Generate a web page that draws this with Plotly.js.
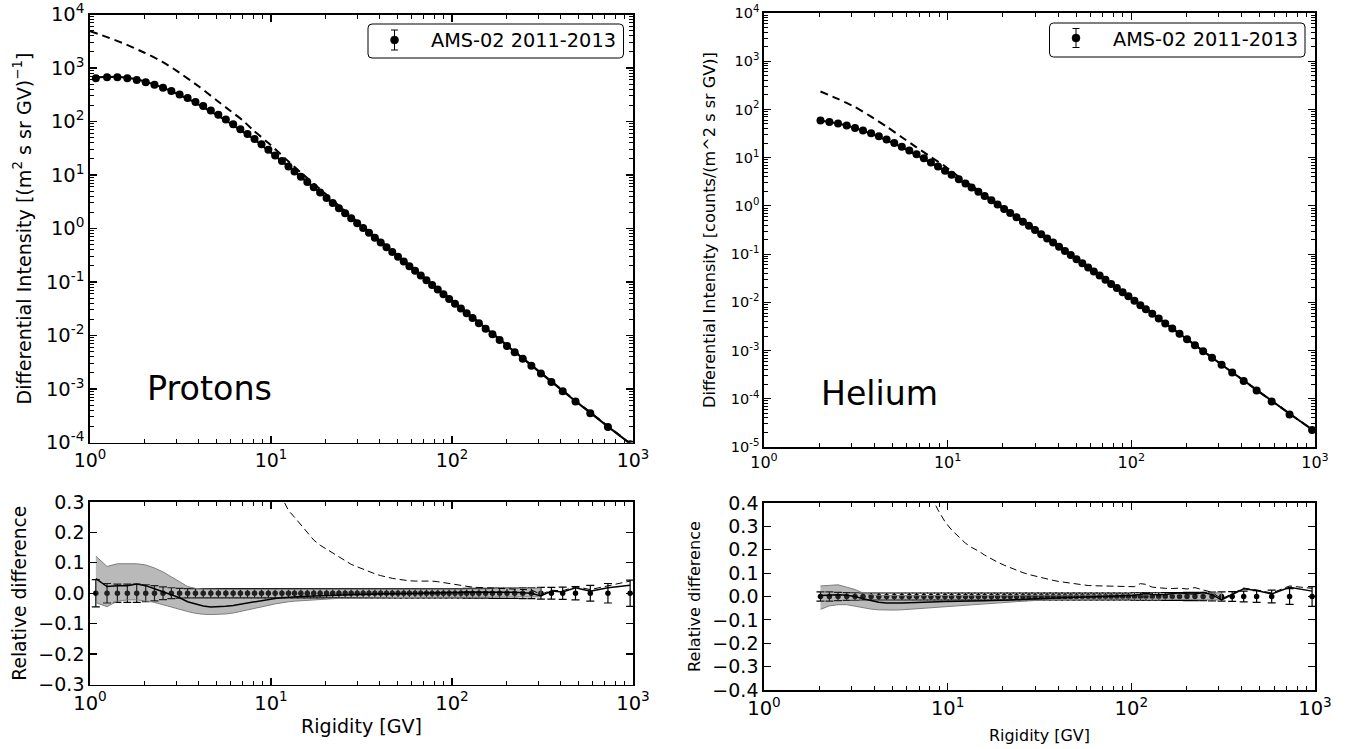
<!DOCTYPE html>
<html><head><meta charset="utf-8">
<script src="https://cdn.plot.ly/plotly-3.0.1.min.js"></script>
<style>html,body{margin:0;padding:0;background:#fff;} #chart{width:1348px;height:749px;}</style>
</head><body><div id="chart"></div>
<script>
// ---------------- Protons ----------------
const protonRigidity = [1.077, 1.242, 1.417, 1.608, 1.812, 2.032, 2.271, 2.532, 2.816, 3.126,
 3.461, 3.826, 4.221, 4.650, 5.119, 5.629, 6.180, 6.773, 7.418, 8.112,
 8.862, 9.671, 10.54, 11.49, 12.49, 13.49, 14.62, 15.87, 17.22, 18.68,
 20.28, 21.93, 23.73, 25.68, 27.73, 29.93, 32.29, 34.78, 37.47, 40.37,
 43.47, 46.77, 50.31, 54.12, 58.16, 62.51, 67.20, 72.25, 77.65, 83.45,
 89.69, 96.44, 103.9, 112.0, 120.5, 129.9, 140.8, 153.4, 167.3, 183.3,
 201.3, 222.0, 246.0, 274.5, 309.9, 354.0, 408.8, 481.2, 580.9, 727.0,
 964.0];
const protonFlux = [640, 672, 668, 640, 596, 542, 486, 428, 372, 320,
 274, 231, 194, 161, 133, 109, 88.9, 72.0, 58.3, 47.0,
 37.5, 29.5, 23.2, 18.24, 14.45, 11.65, 9.30, 7.395, 5.888, 4.688,
 3.726, 2.994, 2.403, 1.929, 1.557, 1.259, 1.019, 0.8286, 0.6730, 0.5468,
 0.4446, 0.3624, 0.2955, 0.2412, 0.1973, 0.1615, 0.1320, 0.1079, 0.08829, 0.07229,
 0.05915, 0.04837, 0.03935, 0.03196, 0.02611, 0.02122, 0.01699, 0.01342, 0.01056, 0.008217,
 0.006352, 0.004852, 0.003662, 0.002710, 0.001943, 0.001351, 9.111e-4, 5.839e-4, 3.511e-4, 1.945e-4,
 9.294e-5];
const protonRelErr = [0.045, 0.032, 0.030, 0.030, 0.030, 0.028, 0.025, 0.021, 0.018, 0.016,
 0.015, 0.015, 0.015, 0.015, 0.015, 0.015, 0.015, 0.015, 0.015, 0.015,
 0.015, 0.015, 0.015, 0.015, 0.015, 0.015, 0.015, 0.015, 0.015, 0.015,
 0.015, 0.015, 0.015, 0.015, 0.015, 0.015, 0.015, 0.015, 0.015, 0.015,
 0.015, 0.015, 0.015, 0.015, 0.015, 0.015, 0.015, 0.015, 0.015, 0.015,
 0.015, 0.015, 0.015, 0.015, 0.016, 0.016, 0.016, 0.016, 0.017, 0.017,
 0.017, 0.017, 0.018, 0.018, 0.019, 0.019, 0.020, 0.022, 0.026, 0.032,
 0.043];
const protonModelDiff = [0.048, 0.022, 0.025, 0.025, 0.030, 0.025, 0.015, 0.005, -0.005, -0.015,
 -0.028, -0.036, -0.042, -0.045, -0.045, -0.043, -0.040, -0.036, -0.032, -0.028,
 -0.024, -0.020, -0.017, -0.015, -0.013, -0.012, -0.011, -0.010, -0.009, -0.008,
 -0.007, -0.006, -0.006, -0.005, -0.005, -0.004, -0.004, -0.003, -0.003, -0.003,
 -0.002, -0.002, -0.002, -0.001, -0.001, 0.000, 0.000, 0.001, 0.001, 0.001,
 0.002, 0.002, 0.003, 0.003, 0.004, 0.004, 0.005, 0.004, 0.004, 0.005,
 0.004, 0.003, 0.002, 0.000, -0.009, 0.007, 0.004, 0.018, 0.007, 0.018,
 0.026];
const protonLisDiff = [null, null, null, null, null, null, null, null, null, null,
 null, null, null, null, null, null, null, null, null, null,
 0.50, 0.43, 0.37, 0.315, 0.272, 0.250, 0.225, 0.198, 0.175, 0.158,
 0.145, 0.132, 0.118, 0.106, 0.095, 0.087, 0.079, 0.071, 0.064, 0.058,
 0.053, 0.049, 0.046, 0.043, 0.041, 0.040, 0.040, 0.041, 0.040, 0.038,
 0.035, 0.032, 0.029, 0.025, 0.022, 0.020, 0.019, 0.018, 0.018, 0.017,
 0.016, 0.015, 0.013, 0.011, -0.004, 0.010, 0.008, 0.022, 0.012, 0.024,
 0.040];
const protonBandUpper = [0.122, 0.088, 0.097, 0.098, 0.097, 0.093, 0.083, 0.070, 0.055, 0.038,
 0.022, 0.016, 0.014, 0.013, 0.013, 0.013, 0.013, 0.013, 0.013, 0.013,
 0.013, 0.013, 0.013, 0.013, 0.013, 0.012, 0.012, 0.012, 0.012, 0.012,
 0.012, 0.012, 0.012, 0.012, 0.012, 0.012, 0.012, 0.012, 0.012, 0.012,
 0.012, 0.012, 0.012, 0.012, 0.012, 0.012, 0.012, 0.012, 0.012, 0.012,
 0.012, 0.012, 0.013, 0.013, 0.013, 0.014, 0.014, 0.014, 0.015, 0.015,
 0.015, 0.016, 0.016, 0.017, 0.017];
const protonBandLower = [-0.031, -0.044, -0.026, -0.022, -0.022, -0.025, -0.030, -0.037, -0.045, -0.053,
 -0.060, -0.066, -0.069, -0.070, -0.070, -0.068, -0.065, -0.061, -0.056, -0.051,
 -0.045, -0.040, -0.035, -0.031, -0.028, -0.026, -0.024, -0.022, -0.021, -0.020,
 -0.019, -0.018, -0.017, -0.017, -0.016, -0.016, -0.016, -0.015, -0.015, -0.015,
 -0.015, -0.014, -0.014, -0.014, -0.014, -0.014, -0.013, -0.013, -0.013, -0.013,
 -0.013, -0.013, -0.013, -0.013, -0.013, -0.013, -0.013, -0.012, -0.012, -0.012,
 -0.012, -0.012, -0.012, -0.012, -0.012];
const protonLisRigidity = [1.0, 1.2, 1.5, 2.0, 2.5, 3.0, 4.0, 5.0, 6.0, 7.0, 8.0, 10.0, 12.5, 15.0, 20.0, 30.0, 50.0, 100.0, 200.0, 500.0, 1000.0];
const protonLisFlux = [4900, 3940, 2970, 1930, 1320, 894, 450, 250, 156, 104, 68, 36, 17.8, 10.3, 4.45, 1.34, 0.315, 0.045, 0.0067, 5.45e-4, 8.7e-5];

// ---------------- Helium ----------------
const heliumRigidity = [2.03, 2.27, 2.53, 2.82, 3.13, 3.46, 3.83, 4.22, 4.65, 5.12,
 5.63, 6.18, 6.77, 7.42, 8.11, 8.86, 9.67, 10.5, 11.5, 12.5,
 13.5, 14.7, 15.9, 17.3, 18.7, 20.3, 21.9, 23.7, 25.7, 27.7,
 29.9, 32.3, 34.8, 37.5, 40.4, 43.5, 46.8, 50.3, 54.1, 58.2,
 62.5, 67.2, 72.3, 77.6, 83.4, 89.7, 96.4, 104, 112, 120,
 130, 141, 153, 167, 183, 201, 222, 246, 275, 310,
 354, 409, 481, 581, 727, 964];
const heliumFlux = [59.0, 55.2, 50.9, 46.2, 41.4, 36.7, 32.0, 27.7, 23.7, 20.1,
 16.9, 14.1, 11.74, 9.68, 7.98, 6.55, 5.37, 4.43, 3.57, 2.92,
 2.42, 1.963, 1.613, 1.304, 1.070, 0.867, 0.713, 0.581, 0.470, 0.386,
 0.3157, 0.2576, 0.2114, 0.1733, 0.1420, 0.1165, 0.0957, 0.0787, 0.0647, 0.0530,
 0.0436, 0.0358, 0.0293, 0.0241, 0.0198, 0.0162, 0.0133, 0.0108, 0.0087, 0.0072,
 0.0058, 0.00462, 0.00366, 0.00286, 0.00222, 0.00171, 0.00129, 9.7e-4, 7.1e-4, 5.05e-4,
 3.5e-4, 2.33e-4, 1.48e-4, 8.8e-5, 4.7e-5, 2.25e-5];
const heliumRelErr = [0.020, 0.020, 0.018, 0.017, 0.016, 0.015, 0.015, 0.015, 0.015, 0.015,
 0.015, 0.015, 0.015, 0.015, 0.015, 0.015, 0.015, 0.015, 0.015, 0.015,
 0.015, 0.015, 0.015, 0.015, 0.015, 0.015, 0.015, 0.015, 0.015, 0.015,
 0.015, 0.015, 0.015, 0.015, 0.015, 0.015, 0.015, 0.015, 0.015, 0.015,
 0.015, 0.015, 0.015, 0.015, 0.015, 0.015, 0.015, 0.016, 0.016, 0.016,
 0.016, 0.016, 0.017, 0.017, 0.017, 0.018, 0.018, 0.018, 0.019, 0.020,
 0.021, 0.023, 0.025, 0.027, 0.034, 0.042];
const heliumModelDiff = [0.004, 0.006, 0.007, 0.005, 0.000, -0.010, -0.018, -0.025, -0.028, -0.029,
 -0.028, -0.027, -0.025, -0.024, -0.023, -0.022, -0.021, -0.021, -0.020, -0.020,
 -0.020, -0.019, -0.018, -0.017, -0.017, -0.016, -0.015, -0.013, -0.012, -0.011,
 -0.010, -0.009, -0.008, -0.007, -0.006, -0.005, -0.004, -0.003, -0.003, -0.002,
 -0.002, -0.001, 0.000, 0.000, 0.001, 0.002, 0.003, 0.005, 0.009, 0.014,
 0.009, 0.007, 0.009, 0.011, 0.016, 0.012, 0.011, 0.017, 0.008, -0.015,
 0.008, 0.033, 0.026, 0.011, 0.039, 0.023];
const heliumLisDiff = [null, null, null, null, null, null, null, null, null, null,
 null, null, null, 0.52, 0.43, 0.37, 0.32, 0.285, 0.255, 0.228,
 0.210, 0.195, 0.177, 0.160, 0.147, 0.134, 0.123, 0.112, 0.102, 0.094,
 0.087, 0.081, 0.075, 0.069, 0.064, 0.060, 0.056, 0.052, 0.049, 0.047,
 0.046, 0.045, 0.044, 0.043, 0.042, 0.041, 0.040, 0.042, 0.055, 0.052,
 0.040, 0.036, 0.035, 0.034, 0.036, 0.032, 0.038, 0.028, 0.018, -0.010,
 0.012, 0.036, 0.028, 0.015, 0.045, 0.035];
const heliumBandUpper = [0.045, 0.046, 0.050, 0.040, 0.030, 0.015, 0.008, 0.005, 0.004, 0.004,
 0.004, 0.004, 0.004, 0.004, 0.004, 0.004, 0.004, 0.004, 0.004, 0.004,
 0.004, 0.004, 0.004, 0.004, 0.004, 0.004, 0.004, 0.004, 0.004, 0.004,
 0.005, 0.005, 0.005, 0.005, 0.005, 0.006, 0.006, 0.006, 0.006, 0.006,
 0.006, 0.006, 0.006, 0.006, 0.006, 0.007, 0.007, 0.007, 0.007, 0.007,
 0.008, 0.009, 0.010, 0.011, 0.012, 0.013, 0.014, 0.015, 0.016, 0.016];
const heliumBandLower = [-0.055, -0.040, -0.035, -0.035, -0.040, -0.048, -0.054, -0.057, -0.058, -0.058,
 -0.057, -0.055, -0.053, -0.050, -0.048, -0.046, -0.044, -0.042, -0.040, -0.038,
 -0.036, -0.034, -0.032, -0.030, -0.028, -0.026, -0.024, -0.022, -0.020, -0.018,
 -0.016, -0.015, -0.014, -0.013, -0.012, -0.012, -0.011, -0.011, -0.010, -0.010,
 -0.010, -0.010, -0.010, -0.010, -0.010, -0.010, -0.010, -0.010, -0.010, -0.010,
 -0.010, -0.011, -0.011, -0.012, -0.012, -0.013, -0.013, -0.014, -0.014, -0.015];
const heliumLisRigidity = [2.03, 2.53, 3.13, 3.83, 4.65, 5.63, 6.77, 8.11, 9.67, 11.5, 13.5, 15.9, 20.3, 30.0, 50.0, 100.0, 200.0, 500.0, 964.0];
const heliumLisFlux = [236, 165, 112, 71, 44, 26.5, 16.4, 10.3, 6.6, 4.0, 2.62, 1.70, 0.90, 0.33, 0.083, 0.0122, 0.00175, 1.36e-4, 2.3e-5];

// ---------------- Ticks & labels ----------------
const decadeVals = [1, 10, 100, 1000];
const decadeText = ['10<sup>0</sup>', '10<sup>1</sup>', '10<sup>2</sup>', '10<sup>3</sup>'];
const protonYVals = [1e-4, 1e-3, 1e-2, 1e-1, 1, 10, 100, 1000, 10000];
const protonYText = ['10<sup>-4</sup>', '10<sup>-3</sup>', '10<sup>-2</sup>', '10<sup>-1</sup>', '10<sup>0</sup>', '10<sup>1</sup>', '10<sup>2</sup>', '10<sup>3</sup>', '10<sup>4</sup>'];
const heliumYVals = [1e-5, 1e-4, 1e-3, 1e-2, 1e-1, 1, 10, 100, 1000, 10000];
const heliumYText = ['10<sup>-5</sup>', '10<sup>-4</sup>', '10<sup>-3</sup>', '10<sup>-2</sup>', '10<sup>-1</sup>', '10<sup>0</sup>', '10<sup>1</sup>', '10<sup>2</sup>', '10<sup>3</sup>', '10<sup>4</sup>'];
const relVals3 = [-0.3, -0.2, -0.1, 0, 0.1, 0.2, 0.3];
const relText3 = ['\u22120.3', '\u22120.2', '\u22120.1', '0.0', '0.1', '0.2', '0.3'];
const relVals4 = [-0.4, -0.3, -0.2, -0.1, 0, 0.1, 0.2, 0.3, 0.4];
const relText4 = ['\u22120.4', '\u22120.3', '\u22120.2', '\u22120.1', '0.0', '0.1', '0.2', '0.3', '0.4'];
const legendLabel = 'AMS-02 2011-2013';
const protonTitleY = 'Differential Intensity [(m<sup>2</sup> s sr GV)<sup>\u22121</sup>]';
const heliumTitleY = 'Differential Intensity [counts/(m^2 s sr GV)]';
const relTitle = 'Relative difference';
const rigTitle = 'Rigidity [GV]';

// minor tick positions (2..9 within each decade)
function minorLog(lo, hi) {
  const out = [];
  for (let p = lo; p < hi; p++) for (let m = 2; m <= 9; m++) out.push(m * Math.pow(10, p));
  return out;
}

// ---------------- Geometry / font helpers ----------------
const W = 1348, H = 749;
const px = x => x / W;
const py = y => 1 - y / H;
const FONT = 'DejaVu Sans, Verdana, sans-serif';
const mctx = document.createElement('canvas').getContext('2d');
function segWidth(segs) {
  let w = 0;
  segs.forEach(s => { mctx.font = (100 * s[1]) + 'px "DejaVu Sans", Verdana, sans-serif'; w += mctx.measureText(s[0]).width; });
  return w;
}
// font size (px) so that text spans the target width in pixels
function fit(segs, target) { return 100 * target / segWidth(segs); }

const szProtonTitle = fit([['Differential Intensity [(m', 1], ['2', 0.7], [' s sr GV)', 1], ['\u22121', 0.7], [']', 1]], 352);
const szHeliumTitle = fit([[heliumTitleY, 1]], 356);
const szRelLeft = fit([[relTitle, 1]], 175);
const szRelRight = fit([[relTitle, 1]], 151);
const szRigLeft = fit([[rigTitle, 1]], 121);
const szRigRight = fit([[rigTitle, 1]], 101);
const szLegend = fit([[legendLabel, 1]], 185);
const szProtons = fit([['Protons', 1]], 125);
const szHelium = fit([['Helium', 1]], 117);

// derived series
const protonModelFlux = protonFlux.map((f, i) => f * (1 + protonModelDiff[i]));
const heliumModelFlux = heliumFlux.map((f, i) => f * (1 + heliumModelDiff[i]));
const protonZero = protonRigidity.map(() => 0);
const heliumZero = heliumRigidity.map(() => 0);

function bandTrace(xs, up, lo, xa, ya) {
  const n = up.length;
  const bx = xs.slice(0, n).concat(xs.slice(0, n).reverse());
  const by = up.concat(lo.slice().reverse());
  return {x: bx, y: by, xaxis: xa, yaxis: ya, type: 'scatter', mode: 'lines', fill: 'toself',
    fillcolor: 'rgba(80,80,80,0.40)', line: {color: 'rgb(125,125,125)', width: 1}, hoverinfo: 'skip', showlegend: false};
}

const traces = [
  // Top-left: protons
  {x: protonRigidity, y: protonFlux, xaxis: 'x', yaxis: 'y', type: 'scatter', mode: 'markers',
   marker: {color: '#000', size: 8}, showlegend: false},
  {x: protonRigidity, y: protonModelFlux, xaxis: 'x', yaxis: 'y', type: 'scatter', mode: 'lines',
   line: {color: '#000', width: 2}, showlegend: false},
  {x: protonLisRigidity, y: protonLisFlux, xaxis: 'x', yaxis: 'y', type: 'scatter', mode: 'lines',
   line: {color: '#000', width: 2, dash: '8px,5px', shape: 'spline', smoothing: 0.6}, showlegend: false},
  // Bottom-left: proton relative difference
  {x: protonRigidity, y: protonZero, xaxis: 'x2', yaxis: 'y2', type: 'scatter', mode: 'markers',
   marker: {color: '#000', size: 5.5},
   error_y: {type: 'data', array: protonRelErr, visible: true, color: '#000', thickness: 1.2, width: 4}, showlegend: false},
  bandTrace(protonRigidity, protonBandUpper, protonBandLower, 'x2', 'y2'),
  {x: protonRigidity, y: protonModelDiff, xaxis: 'x2', yaxis: 'y2', type: 'scatter', mode: 'lines',
   line: {color: '#000', width: 1.5}, showlegend: false},
  {x: protonRigidity, y: protonLisDiff, xaxis: 'x2', yaxis: 'y2', type: 'scatter', mode: 'lines',
   line: {color: '#000', width: 1, dash: '7px,4px'}, connectgaps: false, showlegend: false},
  // Top-right: helium
  {x: heliumRigidity, y: heliumFlux, xaxis: 'x3', yaxis: 'y3', type: 'scatter', mode: 'markers',
   marker: {color: '#000', size: 8}, showlegend: false},
  {x: heliumRigidity, y: heliumModelFlux, xaxis: 'x3', yaxis: 'y3', type: 'scatter', mode: 'lines',
   line: {color: '#000', width: 2}, showlegend: false},
  {x: heliumLisRigidity, y: heliumLisFlux, xaxis: 'x3', yaxis: 'y3', type: 'scatter', mode: 'lines',
   line: {color: '#000', width: 2, dash: '8px,5px', shape: 'spline', smoothing: 0.6}, showlegend: false},
  // Bottom-right: helium relative difference
  {x: heliumRigidity, y: heliumZero, xaxis: 'x4', yaxis: 'y4', type: 'scatter', mode: 'markers',
   marker: {color: '#000', size: 5.5},
   error_y: {type: 'data', array: heliumRelErr, visible: true, color: '#000', thickness: 1.2, width: 4}, showlegend: false},
  bandTrace(heliumRigidity, heliumBandUpper, heliumBandLower, 'x4', 'y4'),
  {x: heliumRigidity, y: heliumModelDiff, xaxis: 'x4', yaxis: 'y4', type: 'scatter', mode: 'lines',
   line: {color: '#000', width: 1.5}, showlegend: false},
  {x: heliumRigidity, y: heliumLisDiff, xaxis: 'x4', yaxis: 'y4', type: 'scatter', mode: 'lines',
   line: {color: '#000', width: 1, dash: '7px,4px'}, connectgaps: false, showlegend: false}
];

function baseAxis(extra) {
  return Object.assign({
    showline: true, linecolor: '#000', linewidth: 1.7, mirror: 'allticks',
    ticks: 'inside', ticklen: 7, tickwidth: 1.2, tickcolor: '#000',
    showgrid: false, zeroline: false, fixedrange: true
  }, extra);
}
function logXAxis(domain, anchor, size, title, titleSize, standoff) {
  return baseAxis({
    type: 'log', range: [0, 3], domain: domain, anchor: anchor,
    tickmode: 'array', tickvals: decadeVals, ticktext: decadeText,
    tickfont: {family: FONT, size: size, color: '#000'},
    minor: {tickmode: 'array', tickvals: minorLog(0, 3), ticks: 'inside', ticklen: 4, tickwidth: 1, tickcolor: '#000', showgrid: false},
    title: title ? {text: title, font: {family: FONT, size: titleSize, color: '#000'}, standoff: standoff} : {text: ''}
  });
}

const layout = {
  width: W, height: H, margin: {l: 0, r: 0, t: 0, b: 0},
  paper_bgcolor: '#fff', plot_bgcolor: '#fff', showlegend: false,
  font: {family: FONT, color: '#000'},
  xaxis: logXAxis([px(90), px(633)], 'y', 19, null),
  yaxis: baseAxis({
    type: 'log', range: [-4, 4], domain: [py(442.5), py(14.5)], anchor: 'x',
    tickmode: 'array', tickvals: protonYVals, ticktext: protonYText,
    tickfont: {family: FONT, size: 19.5, color: '#000'},
    minor: {tickmode: 'array', tickvals: minorLog(-4, 4), ticks: 'inside', ticklen: 4, tickwidth: 1, tickcolor: '#000', showgrid: false},
    title: {text: ''}
  }),
  xaxis2: logXAxis([px(90), px(633)], 'y2', 19.5, rigTitle, szRigLeft, 6),
  yaxis2: baseAxis({
    range: [-0.3, 0.3], domain: [py(684.5), py(502)], anchor: 'x2',
    tickmode: 'array', tickvals: relVals3, ticktext: relText3,
    tickfont: {family: FONT, size: 19, color: '#000'},
    title: {text: relTitle, font: {family: FONT, size: szRelLeft, color: '#000'}, standoff: 7}
  }),
  xaxis3: logXAxis([px(764), px(1315)], 'y3', 16, null),
  yaxis3: baseAxis({
    type: 'log', range: [-5, 4], domain: [py(447), py(13)], anchor: 'x3',
    tickmode: 'array', tickvals: heliumYVals, ticktext: heliumYText,
    tickfont: {family: FONT, size: 14.5, color: '#000'},
    minor: {tickmode: 'array', tickvals: minorLog(-5, 4), ticks: 'inside', ticklen: 4, tickwidth: 1, tickcolor: '#000', showgrid: false},
    title: {text: ''}
  }),
  xaxis4: logXAxis([px(764), px(1315)], 'y4', 19.5, rigTitle, szRigRight, 11),
  yaxis4: baseAxis({
    range: [-0.4, 0.4], domain: [py(690), py(503)], anchor: 'x4',
    tickmode: 'array', tickvals: relVals4, ticktext: relText4,
    tickfont: {family: FONT, size: 19, color: '#000'},
    title: {text: relTitle, font: {family: FONT, size: szRelRight, color: '#000'}, standoff: 8}
  }),
  annotations: [
    // y-axis titles of the upper panels
    {text: protonTitleY, xref: 'paper', yref: 'paper', x: px(22.5), y: py(229), xanchor: 'center', yanchor: 'middle',
     textangle: -90, showarrow: false, font: {family: FONT, size: szProtonTitle, color: '#000'}},
    {text: heliumTitleY, xref: 'paper', yref: 'paper', x: px(709), y: py(230), xanchor: 'center', yanchor: 'middle',
     textangle: -90, showarrow: false, font: {family: FONT, size: szHeliumTitle, color: '#000'}},
    {text: 'Protons', xref: 'paper', yref: 'paper', x: px(145), y: py(388.5), xanchor: 'left', yanchor: 'middle',
     showarrow: false, font: {family: FONT, size: szProtons, color: '#000'}},
    {text: 'Helium', xref: 'paper', yref: 'paper', x: px(819), y: py(393), xanchor: 'left', yanchor: 'middle',
     showarrow: false, font: {family: FONT, size: szHelium, color: '#000'}},
    {text: legendLabel, xref: 'paper', yref: 'paper', x: px(429), y: py(40.5), xanchor: 'left', yanchor: 'middle',
     showarrow: false, font: {family: FONT, size: szLegend, color: '#000'}},
    {text: legendLabel, xref: 'paper', yref: 'paper', x: px(1111), y: py(39.5), xanchor: 'left', yanchor: 'middle',
     showarrow: false, font: {family: FONT, size: szLegend, color: '#000'}}
  ],
  shapes: []
};

// custom legend boxes with error-bar symbol
function roundRectPath(x0, y0, x1, y1, r) {
  const P = (x, y) => px(x) + ',' + py(y);
  return 'M' + P(x0 + r, y0) + ' L' + P(x1 - r, y0) + ' Q' + P(x1, y0) + ' ' + P(x1, y0 + r) +
    ' L' + P(x1, y1 - r) + ' Q' + P(x1, y1) + ' ' + P(x1 - r, y1) +
    ' L' + P(x0 + r, y1) + ' Q' + P(x0, y1) + ' ' + P(x0, y1 - r) +
    ' L' + P(x0, y0 + r) + ' Q' + P(x0, y0) + ' ' + P(x0 + r, y0) + ' Z';
}
function legendShapes(x0, y0, x1, y1, mx, my, eTop, eBot) {
  const L = {color: '#000', width: 1};
  return [
    {type: 'path', xref: 'paper', yref: 'paper', path: roundRectPath(x0, y0, x1, y1, 4), line: {color: '#000', width: 1}, fillcolor: '#fff'},
    {type: 'line', xref: 'paper', yref: 'paper', x0: px(mx), x1: px(mx), y0: py(eTop), y1: py(eBot), line: L},
    {type: 'line', xref: 'paper', yref: 'paper', x0: px(mx - 3.5), x1: px(mx + 3.5), y0: py(eTop), y1: py(eTop), line: L},
    {type: 'line', xref: 'paper', yref: 'paper', x0: px(mx - 3.5), x1: px(mx + 3.5), y0: py(eBot), y1: py(eBot), line: L},
    {type: 'circle', xref: 'paper', yref: 'paper', x0: px(mx - 4), x1: px(mx + 4), y0: py(my + 4), y1: py(my - 4), line: {color: '#000', width: 0.5}, fillcolor: '#000'}
  ];
}
layout.shapes = legendShapes(368, 24, 623.5, 58, 394.5, 40, 30, 50)
  .concat(legendShapes(1049.5, 23, 1305, 57, 1076, 38, 28.5, 47.5));

Plotly.newPlot('chart', traces, layout, {displayModeBar: false, staticPlot: true});
</script>
</body></html>
